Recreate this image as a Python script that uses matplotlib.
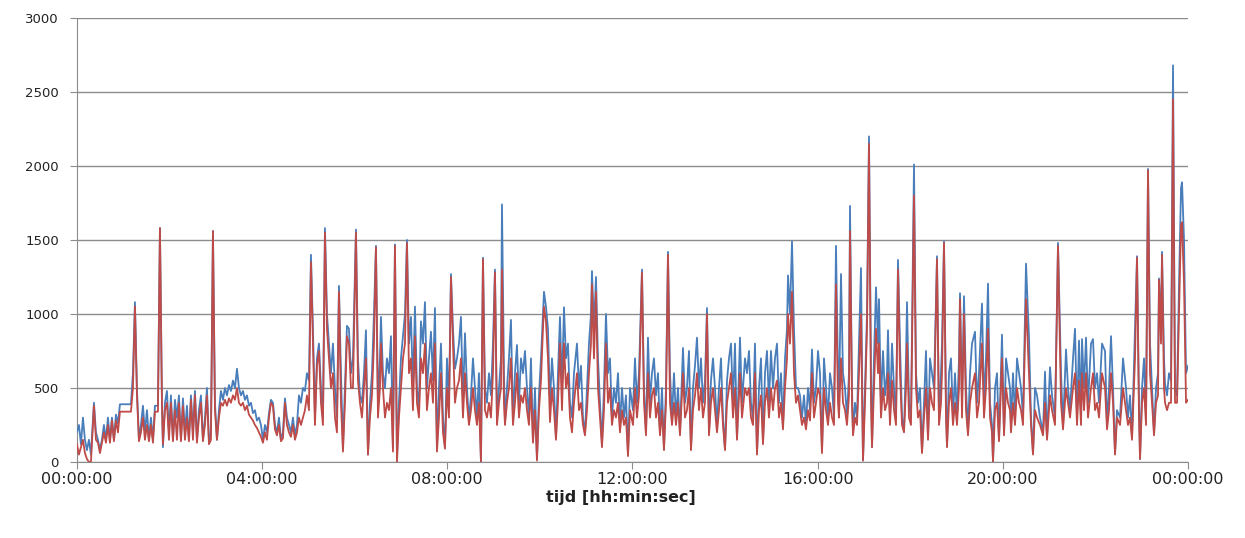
import matplotlib
matplotlib.use("Agg")
import matplotlib.pyplot as plt
import numpy as np

# pixel-x readings converted to hours below: (x_px - 77) / 46.29
x_px = [77,79,81,83,85,87,89,91,94,96,98,100,102,104,106,108,110,112,114,116,118,120,131,133,135,137,139,141,143,145,147,149,151,153,155,158,160,162,163,165,167,169,171,173,175,177,179,181,183,185,187,189,191,193,195,197,199,201,203,205,207,209,211,213,215,217,219,221,223,225,227,229,231,233,235,237,239,241,243,245,247,249,251,253,255,257,259,261,263,265,267,269,271,273,275,277,279,281,283,285,287,289,291,293,295,297,299,301,303,305,307,309,311,313,315,317,319,321,323,325,327,329,331,333,335,337,339,341,343,345,347,349,351,353,356,358,360,362,364,366,368,370,372,374,376,378,380,381,383,385,387,389,391,393,395,397,399,401,403,405,407,409,411,413,415,417,419,421,423,425,427,429,431,433,435,437,439,441,443,445,447,449,451,453,455,457,459,461,463,465,467,469,471,473,475,477,479,481,483,485,487,489,491,493,495,497,499,501,502,504,505,507,509,511,513,515,517,519,521,523,525,527,529,531,533,535,537,539,541,543,544,546,548,550,552,554,556,558,560,562,564,566,568,570,572,574,577,579,581,583,585,587,589,591,592,594,596,598,600,602,604,606,608,610,612,614,616,618,620,622,624,626,628,630,633,635,637,639,642,644,646,648,650,652,654,656,658,660,662,664,666,668,670,672,674,676,678,680,683,685,687,689,691,693,695,697,699,701,703,705,707,709,711,713,715,717,719,721,723,725,727,729,731,733,735,737,740,742,745,747,749,751,753,755,757,759,761,763,765,767,769,771,773,775,777,779,781,783,785,787,788,790,792,794,796,798,800,802,804,806,808,810,812,814,816,818,820,822,824,826,828,830,832,834,836,838,839,841,843,845,847,849,850,852,853,855,857,859,861,863,865,867,869,871,872,874,876,878,879,881,883,885,887,888,890,892,894,896,898,900,902,904,906,907,909,911,914,916,918,920,922,924,926,928,930,932,934,937,939,941,942,944,946,947,949,951,953,955,957,959,960,962,964,966,968,970,972,975,977,979,982,984,986,988,990,992,993,995,997,999,1002,1004,1006,1008,1010,1011,1013,1015,1017,1019,1021,1023,1026,1029,1031,1033,1035,1037,1040,1043,1045,1047,1050,1052,1055,1058,1061,1063,1066,1068,1070,1073,1075,1077,1079,1081,1082,1084,1086,1088,1091,1093,1095,1097,1099,1102,1105,1107,1109,1111,1113,1115,1117,1120,1123,1126,1128,1130,1132,1135,1137,1139,1140,1142,1144,1146,1148,1150,1152,1154,1156,1158,1159,1161,1162,1164,1165,1167,1169,1171,1173,1175,1177,1179,1181,1182,1184,1186,1188]

blue = [200,250,120,300,150,80,150,50,400,200,150,80,150,250,150,300,150,300,150,320,260,390,390,600,1080,500,150,250,380,200,350,150,300,150,380,380,1580,400,100,400,480,200,450,150,420,300,450,150,430,200,380,150,450,200,480,150,350,450,150,300,500,150,200,1560,400,150,350,480,420,500,450,520,480,550,500,630,500,450,480,420,450,380,400,330,350,280,300,250,150,250,200,330,420,400,250,200,300,150,200,430,300,250,200,300,180,250,450,400,500,480,600,550,1400,900,300,700,800,500,300,1580,1000,800,600,800,500,300,1190,600,100,500,920,900,600,700,1570,700,450,400,600,890,50,400,600,1000,1460,400,700,980,600,500,700,600,850,100,1470,30,400,700,850,1000,1500,800,980,500,1050,500,370,950,800,1080,500,700,880,550,1040,100,500,800,300,100,700,400,1270,900,630,700,800,980,400,870,500,280,450,700,500,300,600,0,1380,500,400,600,450,800,1300,280,500,700,1740,600,270,500,700,960,270,600,790,400,700,600,750,500,300,700,140,500,20,450,700,1000,1150,1050,900,400,700,500,160,600,980,500,1045,700,800,400,300,600,800,500,650,300,190,500,800,1000,1290,900,1250,700,400,120,500,1000,600,700,300,500,400,600,250,500,300,450,50,500,350,700,400,600,1300,500,200,840,400,600,700,450,600,200,500,90,500,1420,600,300,600,300,500,200,770,400,500,750,85,500,650,840,500,700,400,550,1040,200,550,700,500,250,500,700,300,85,550,700,800,400,800,160,840,400,700,600,750,400,300,800,60,500,700,130,600,750,400,750,500,700,800,400,600,240,700,900,1260,1000,1490,900,500,500,450,300,450,250,500,350,760,400,500,750,600,70,700,500,300,600,500,300,1460,600,400,1270,600,500,300,600,1730,500,200,400,300,800,1310,10,500,1000,2200,600,100,700,1180,800,1100,400,750,450,600,890,300,800,500,300,1365,800,300,215,700,1080,400,300,2010,600,400,500,70,400,750,160,700,600,500,1390,270,600,800,1490,400,105,600,700,300,600,300,700,1140,400,1120,500,200,600,800,880,400,600,1070,400,700,1205,400,250,0,500,600,150,860,200,700,600,500,250,600,300,700,600,500,300,1340,840,300,60,500,450,300,200,610,160,640,450,300,1480,600,240,760,500,350,700,900,300,820,300,830,500,840,400,800,830,500,600,400,800,750,250,500,850,500,60,350,300,700,500,300,450,170,890,1390,400,20,500,700,300,1980,800,500,195,500,600,1240,900,1420,700,530,450,600,550,2680,500,450,1200,1850,1890,1500,600,650]

red = [120,50,100,150,60,20,0,0,380,150,130,60,130,200,130,250,130,280,140,280,200,340,340,500,1050,450,140,200,300,150,250,140,250,130,340,340,1580,400,120,350,400,150,400,140,350,150,400,140,380,150,300,140,420,150,450,130,300,400,140,250,450,120,150,1560,350,150,300,400,380,420,380,430,400,450,420,500,400,380,400,350,380,320,300,280,250,230,200,170,130,200,150,300,400,380,220,180,250,140,160,400,250,200,170,250,150,200,300,250,300,350,450,350,1350,800,250,650,750,400,250,1550,900,700,500,600,300,200,1150,400,70,400,850,800,500,500,1550,550,400,300,500,700,50,300,450,800,1450,300,500,800,500,300,400,350,500,70,1460,0,300,500,700,800,1480,600,700,350,850,400,300,700,600,800,350,500,600,400,800,70,300,600,200,90,500,300,1250,800,400,500,550,700,300,600,400,250,350,500,350,250,400,0,1370,350,300,400,300,600,1280,250,400,500,1300,400,250,400,500,700,250,400,600,300,450,400,500,350,250,500,130,350,10,350,550,900,1050,950,700,270,500,350,150,400,800,350,800,500,600,300,200,400,600,350,400,250,180,350,600,800,1200,700,1150,500,300,100,350,800,400,500,250,350,300,400,200,350,250,300,40,350,250,500,300,450,1280,400,180,600,300,450,500,300,400,180,350,80,400,1400,400,250,400,250,400,180,600,300,350,500,80,350,450,600,350,500,300,400,1000,180,400,500,350,200,350,500,250,80,400,500,600,300,500,150,600,300,500,450,500,300,250,600,50,350,450,120,400,500,300,500,350,500,550,300,400,220,500,700,1000,800,1150,600,400,450,350,250,300,220,350,280,600,300,400,500,450,60,500,350,250,400,300,250,1200,400,300,700,400,350,250,450,1560,400,180,300,250,600,1000,10,400,900,2150,400,100,500,900,600,800,300,500,350,400,600,250,550,350,250,1300,600,250,200,500,800,300,250,1800,500,300,350,60,300,500,150,500,400,350,1370,250,400,600,1480,300,100,400,500,250,400,250,500,1100,300,1000,350,180,400,500,600,300,400,800,300,500,900,300,200,0,350,400,140,700,180,500,400,350,200,400,250,500,400,350,250,1100,600,250,50,350,300,250,180,400,150,450,350,250,1460,400,220,500,400,300,500,600,250,550,250,600,350,600,300,500,600,350,400,300,600,500,220,350,600,400,50,300,250,500,350,250,300,150,700,1380,300,20,400,500,250,1970,600,400,180,400,450,1230,800,1400,500,400,350,400,400,2450,400,400,1000,1600,1620,1200,400,420]

hours = (np.array(x_px) - 77) / 46.29

y_ticks = [0, 500, 1000, 1500, 2000, 2500, 3000]
x_tick_labels = ["00:00:00", "04:00:00", "08:00:00", "12:00:00", "16:00:00", "20:00:00", "00:00:00"]
x_label = "tijd [hh:min:sec]"

plt.rcParams['font.family'] = ['DejaVu Sans']
fig = plt.figure(figsize=(12.45, 5.38), dpi=100)
ax = fig.add_axes([0.0618, 0.1413, 0.8924, 0.8253])

ax.plot(hours, blue, color="#4a7ebb", lw=1.3, zorder=3)
ax.plot(hours, red, color="#be4b48", lw=1.3, zorder=4)

ax.set_xlim(0, 24)
ax.set_ylim(0, 3000)
ax.set_yticks(y_ticks)
ax.set_xticks(np.arange(0, 25, 4))
ax.set_xticklabels(x_tick_labels)
ax.yaxis.grid(True, color="#8c8c8c", lw=1.0)
ax.set_axisbelow(True)
for s in ["top", "right"]:
    ax.spines[s].set_visible(False)
ax.spines["left"].set_color("#8c8c8c")
ax.spines["bottom"].set_color("#8c8c8c")
ax.tick_params(axis="both", colors="#8c8c8c", labelcolor="#222222", length=5, direction="out")
ax.tick_params(axis="y", labelsize=9.5, pad=8)
ax.tick_params(axis="x", labelsize=11.5, pad=2)
ax.set_xlabel(x_label, fontsize=11.5, fontweight="bold", color="#222222", labelpad=4)
ax.xaxis.set_label_coords(0.49, -0.062)

fig.savefig("out.png", dpi=100, facecolor="white")
